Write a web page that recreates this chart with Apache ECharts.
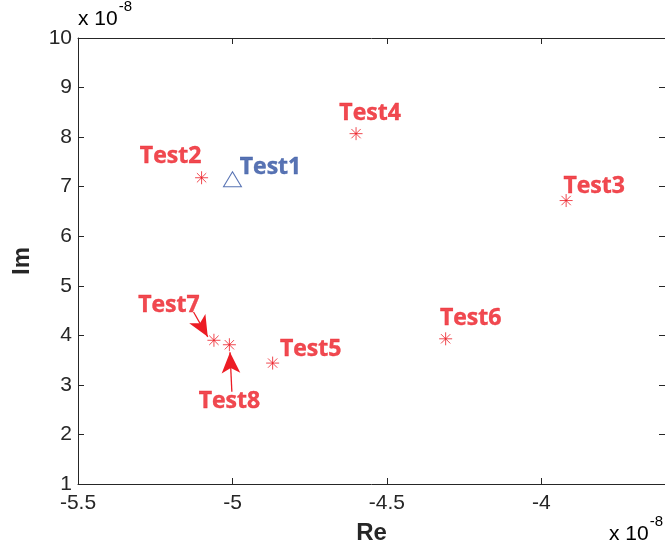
<!DOCTYPE html>
<html>
<head>
<meta charset="utf-8">
<style>
  html, body { margin: 0; padding: 0; background: #fff; }
  #chart { width: 665px; height: 558px; }
</style>
<script src="https://cdn.jsdelivr.net/npm/echarts@6/dist/echarts.min.js"></script>
</head>
<body>
<div id="chart"></div>
<script>
// Complex-plane positions of the test cases (units of 1e-8)
const names = ['Test1', 'Test2', 'Test3', 'Test4', 'Test5', 'Test6', 'Test7', 'Test8'];
const re = [-5.00, -5.10, -3.92, -4.60, -4.87, -4.31, -5.06, -5.01];
const im = [7.15, 7.18, 6.72, 8.07, 3.44, 3.93, 3.90, 3.81];

// Reference case drawn with a triangle, the rest with stars
const referenceName = 'Test1';

// Pointer arrows for the crowded pair (start -> tip, in data units)
const arrowTest7 = [[-5.126, 4.47], [-5.080, 3.97]];
const arrowTest8 = [[-5.002, 2.86], [-5.008, 3.66]];

// Axis settings
const xTicks = { min: -5.5, max: -3.6, interval: 0.5 };
const yTicks = { min: 1, max: 10, interval: 1 };

// Label placement relative to each marker centre (pixels)
const labelOffsets = {
  Test1: [38, -12], Test2: [-31, -21], Test3: [28, -14], Test4: [14, -20],
  Test5: [38, -14], Test6: [25, -20], Test7: [-45, -35], Test8: [0, 57]
};

const RED = '#ec1c24';
const BLUE = '#2e50a0';
const AXIS = '#262626';
const FONT = 'Liberation Sans, Arial, sans-serif';
const starPath = 'path://M0 -6 L0 6 M-6 0 L6 0 M-4.3 -4.3 L4.3 4.3 M-4.3 4.3 L4.3 -4.3';

function item(i) {
  const n = names[i];
  return {
    name: n,
    value: [re[i], im[i]],
    label: { offset: labelOffsets[n] }
  };
}

const refData = [], starData = [];
names.forEach((n, i) => (n === referenceName ? refData : starData).push(item(i)));

const labelStyle = (color) => ({
  show: true,
  position: 'inside',
  formatter: '{b}',
  fontFamily: 'Open Sans',
  fontWeight: 'bold',
  fontSize: 23,
  color: color,
  textBorderColor: color,
  textBorderWidth: 0.4,
  align: 'center',
  verticalAlign: 'middle'
});

const tickFont = { fontFamily: FONT, fontSize: 21, color: AXIS };
const lineStyle = { color: AXIS, width: 1 };
const exponentRich = {
  b: { fontFamily: FONT, fontSize: 21, color: AXIS, padding: [14, 0, 0, 0] },
  s: { fontFamily: FONT, fontSize: 15, color: AXIS, padding: [0, 0, 12, 1] }
};

const chart = echarts.init(document.getElementById('chart'), null, { renderer: 'canvas' });
chart.setOption({
  animation: false,
  backgroundColor: '#fff',
  grid: { left: 78, top: 38, width: 587, height: 446, containLabel: false },
  xAxis: [
    {
      type: 'value', position: 'bottom',
      min: xTicks.min, max: xTicks.max, interval: xTicks.interval,
      splitLine: { show: false },
      axisLine: { show: true, onZero: false, lineStyle },
      axisTick: { show: true, inside: true, length: 6, lineStyle },
      axisLabel: { ...tickFont, margin: 9, showMaxLabel: false,
        formatter: v => String(Math.round(v * 10) / 10) },
      name: 'Re', nameLocation: 'middle', nameGap: 37,
      nameTextStyle: { fontFamily: FONT, fontWeight: 'bold', fontSize: 24, color: AXIS }
    },
    {
      type: 'value', position: 'top',
      min: xTicks.min, max: xTicks.max, interval: xTicks.interval,
      splitLine: { show: false },
      axisLine: { show: true, onZero: false, lineStyle },
      axisTick: { show: true, inside: true, length: 6, lineStyle },
      axisLabel: { show: false }
    }
  ],
  yAxis: [
    {
      type: 'value', position: 'left',
      min: yTicks.min, max: yTicks.max, interval: yTicks.interval,
      splitLine: { show: false },
      axisLine: { show: true, onZero: false, lineStyle },
      axisTick: { show: true, inside: true, length: 6, lineStyle },
      axisLabel: { ...tickFont, margin: 6 },
      name: 'Im', nameLocation: 'middle', nameGap: 44, nameRotate: 90,
      nameTextStyle: { fontFamily: FONT, fontWeight: 'bold', fontSize: 24, color: AXIS }
    },
    {
      type: 'value', position: 'right',
      min: yTicks.min, max: yTicks.max, interval: yTicks.interval,
      splitLine: { show: false },
      axisLine: { show: true, onZero: false, lineStyle },
      axisTick: { show: true, inside: true, length: 6, lineStyle },
      axisLabel: { show: false }
    }
  ],
  series: [
    {
      type: 'scatter',
      data: starData,
      symbol: starPath,
      symbolSize: 13,
      itemStyle: { color: 'rgba(0,0,0,0)', borderColor: RED, borderWidth: 1 },
      label: labelStyle(RED),
      z: 3,
      markLine: {
        silent: true,
        symbol: ['none', 'arrow'],
        symbolSize: [14, 21],
        label: { show: false },
        lineStyle: { color: RED, width: 1.3, type: 'solid' },
        data: [
          [{ coord: arrowTest7[0] }, { coord: arrowTest7[1] }],
          [{ coord: arrowTest8[0] }, { coord: arrowTest8[1] }]
        ]
      }
    },
    {
      type: 'scatter',
      data: refData,
      symbol: 'triangle',
      symbolSize: [18, 15],
      itemStyle: { color: 'rgba(0,0,0,0)', borderColor: BLUE, borderWidth: 1 },
      label: labelStyle(BLUE),
      z: 3
    }
  ],
  graphic: [
    {
      type: 'text', left: 78, top: -1,
      style: { text: '{b|x 10}{s|-8}', rich: exponentRich }
    },
    {
      type: 'text', left: 609, top: 514,
      style: { text: '{b|x 10}{s|-8}', rich: exponentRich }
    }
  ]
});
</script>
</body>
</html>
